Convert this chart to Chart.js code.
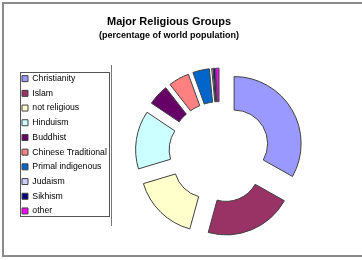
<!DOCTYPE html>
<html lang="en">
<head>
    <meta charset="UTF-8">
    <title>Major Religious Groups</title>
    <style>
        body {
          margin: 0;
          background: #fff;
        }
    </style>
    <script src="https://cdn.jsdelivr.net/npm/chart.js"></script>
</head>
<body>

    <canvas id="myChart" width="362" height="260"></canvas>

    <script>
        var religions = ['Christianity', 'Islam', 'not religious', 'Hinduism', 'Buddhist',
                         'Chinese Traditional', 'Primal indigenous', 'Judaism', 'Sikhism', 'other'];
        var shares = [33, 21, 16, 14, 5, 5, 4, 0.3, 0.4, 0.8];
        var sliceColors = ['#9999ff', '#993366', '#ffffcc', '#ccffff', '#660066',
                           '#ff8080', '#0066cc', '#ccccff', '#000080', '#ff00ff'];

        var font = "Arial, 'Liberation Sans', sans-serif";
        var explode = 17;

        // push each slice outwards along its middle angle (Excel "exploded doughnut")
        var explodePlugin = {
            id: 'explode',
            beforeDatasetDraw: function(chart, args) {
                args.meta.data.forEach(function(arc) {
                    if (arc._exploded) return;
                    var baseDraw = Object.getPrototypeOf(arc).draw;
                    arc.draw = function(ctx, area) {
                        var mid = (this.startAngle + this.endAngle) / 2;
                        ctx.save();
                        ctx.translate(Math.cos(mid) * explode, Math.sin(mid) * explode);
                        baseDraw.call(this, ctx, area);
                        ctx.restore();
                    };
                    arc._exploded = true;
                });
            }
        };

        // outer chart border (left, top, bottom only - right edge is cut off)
        var borderPlugin = {
            id: 'border',
            beforeDraw: function(chart) {
                var ctx = chart.ctx;
                ctx.save();
                ctx.strokeStyle = '#8a8a8a';
                ctx.lineWidth = 2;
                ctx.beginPath();
                ctx.moveTo(chart.width, 3);
                ctx.lineTo(3, 3);
                ctx.lineTo(3, 256);
                ctx.lineTo(chart.width, 256);
                ctx.stroke();
                ctx.restore();
            }
        };

        // box round the legend and the plot area edge line
        var framePlugin = {
            id: 'frames',
            afterDraw: function(chart) {
                var ctx = chart.ctx;
                var boxes = chart.legend.legendHitBoxes;
                var x0 = Infinity, y0 = Infinity, x1 = -Infinity, y1 = -Infinity;
                boxes.forEach(function(b) {
                    x0 = Math.min(x0, b.left);
                    y0 = Math.min(y0, b.top);
                    x1 = Math.max(x1, b.left + b.width);
                    y1 = Math.max(y1, b.top + b.height);
                });
                ctx.save();
                ctx.strokeStyle = '#555';
                ctx.lineWidth = 1;
                ctx.strokeRect(Math.round(x0 - 2) + 0.5, Math.round(y0 - 2) + 0.5,
                               Math.round(x1 - x0 + 4), Math.round(y1 - y0 + 3));
                ctx.strokeStyle = '#777';
                ctx.beginPath();
                ctx.moveTo(111.5, 65);
                ctx.lineTo(111.5, 226);
                ctx.stroke();
                ctx.restore();
            }
        };

        new Chart(document.getElementById('myChart'), {
            type: 'doughnut',
            data: {
                labels: religions,
                datasets: [{
                    data: shares,
                    backgroundColor: sliceColors,
                    borderColor: '#404040',
                    borderWidth: 1,
                    radius: 67,
                    cutout: '50%'
                }]
            },
            options: {
                responsive: false,
                animation: false,
                events: [],
                layout: { padding: { left: 16, right: 40, top: 0, bottom: 24 } },
                plugins: {
                    title: {
                        display: true,
                        text: 'Major Religious Groups',
                        color: '#000',
                        font: { family: font, size: 11, weight: 'bold' },
                        padding: { top: 15.4, bottom: 0 }
                    },
                    subtitle: {
                        display: true,
                        text: '(percentage of world population)',
                        color: '#000',
                        font: { family: font, size: 9, weight: 'bold' },
                        padding: { top: 2, bottom: 26.9 }
                    },
                    legend: {
                        position: 'left',
                        align: 'start',
                        fullSize: false,
                        labels: {
                            boxWidth: 6,
                            boxHeight: 6,
                            padding: 6,
                            color: '#000',
                            font: { family: font, size: 8.7 }
                        }
                    },
                    tooltip: { enabled: false }
                }
            },
            plugins: [borderPlugin, explodePlugin, framePlugin]
        });
    </script>

</body>
</html>
